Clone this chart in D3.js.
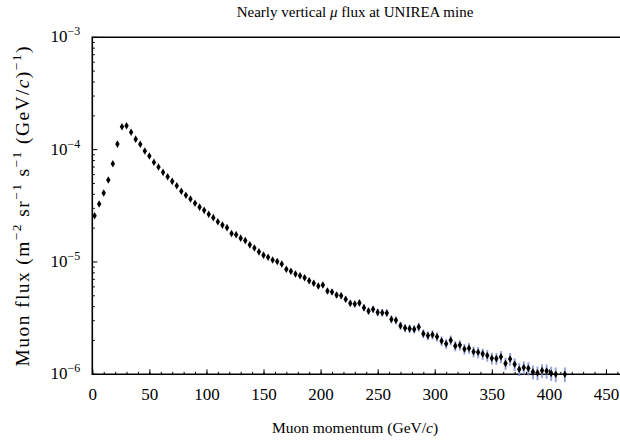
<!DOCTYPE html>
<html lang="en">
<head>
    <meta charset="UTF-8">
    <title>Muon flux</title>
    <style>
        body { margin: 0; background: #fff; }
        svg text { font-family: "Liberation Serif", "Times New Roman", "DejaVu Serif", serif; fill: #000; }
    </style>
</head>
<body>
    <svg id="chart" width="620" height="442"></svg>

    <script src="https://cdn.jsdelivr.net/npm/d3@7"></script>
    <script>
        // momentum bin centres (GeV/c)
        var momentum = [2, 6, 10, 14, 18, 22, 26, 30, 34, 38, 42, 46, 50, 54, 58, 62, 66, 70, 74, 78,
            82, 86, 90, 94, 98, 102, 106, 110, 114, 118, 122, 126, 130, 134, 138, 142, 146, 150, 154, 158,
            162, 166, 170, 174, 178, 182, 186, 190, 194, 198, 202, 206, 210, 214, 218, 222, 226, 230, 234, 238,
            242, 246, 250, 254, 258, 262, 266, 270, 274, 278, 282, 286, 290, 294, 298, 302, 306, 310, 314, 318,
            322, 326, 330, 334, 338, 342, 346, 350, 354, 358, 362, 366, 370, 374, 378, 382, 386, 390, 394, 398,
            402, 406, 414];

        // flux (m^-2 sr^-1 s^-1 (GeV/c)^-1)
        var flux = [2.58e-5, 3.28e-5, 4.11e-5, 5.37e-5, 7.49e-5, 1.12e-4, 1.60e-4, 1.63e-4, 1.43e-4, 1.24e-4,
            1.115e-4, 9.73e-5, 8.78e-5, 7.71e-5, 7.00e-5, 6.28e-5, 5.74e-5, 5.22e-5, 4.77e-5, 4.26e-5,
            3.92e-5, 3.63e-5, 3.33e-5, 3.08e-5, 2.88e-5, 2.66e-5, 2.48e-5, 2.28e-5, 2.13e-5, 2.02e-5,
            1.79e-5, 1.75e-5, 1.63e-5, 1.55e-5, 1.42e-5, 1.33e-5, 1.23e-5, 1.15e-5, 1.10e-5, 1.04e-5,
            1.01e-5, 9.59e-6, 8.61e-6, 8.26e-6, 7.82e-6, 7.55e-6, 7.24e-6, 6.81e-6, 6.46e-6, 6.11e-6,
            6.24e-6, 5.52e-6, 5.41e-6, 5.08e-6, 5.01e-6, 4.66e-6, 4.29e-6, 4.23e-6, 4.32e-6, 3.92e-6,
            3.66e-6, 3.79e-6, 3.56e-6, 3.53e-6, 3.51e-6, 3.09e-6, 3.03e-6, 2.71e-6, 2.58e-6, 2.55e-6,
            2.52e-6, 2.64e-6, 2.30e-6, 2.21e-6, 2.25e-6, 2.16e-6, 1.98e-6, 1.87e-6, 2.01e-6, 1.79e-6,
            1.82e-6, 1.68e-6, 1.71e-6, 1.59e-6, 1.57e-6, 1.52e-6, 1.47e-6, 1.39e-6, 1.38e-6, 1.43e-6,
            1.25e-6, 1.37e-6, 1.23e-6, 1.11e-6, 1.15e-6, 1.13e-6, 1.05e-6, 1.03e-6, 1.08e-6, 1.07e-6,
            1.02e-6, 1.00e-6, 1.00e-6];

        // relative uncertainty of each point
        var relErr = [0.02, 0.02, 0.02, 0.02, 0.02, 0.02, 0.02, 0.02, 0.02, 0.02,
            0.02, 0.02, 0.02, 0.025, 0.025, 0.025, 0.025, 0.025, 0.025, 0.025,
            0.03, 0.03, 0.03, 0.03, 0.03, 0.03, 0.03, 0.03, 0.035, 0.035,
            0.035, 0.035, 0.035, 0.035, 0.04, 0.04, 0.04, 0.04, 0.04, 0.04,
            0.045, 0.045, 0.045, 0.045, 0.05, 0.05, 0.05, 0.05, 0.05, 0.055,
            0.055, 0.055, 0.06, 0.06, 0.06, 0.06, 0.065, 0.065, 0.065, 0.07,
            0.07, 0.07, 0.075, 0.075, 0.075, 0.08, 0.08, 0.08, 0.085, 0.085,
            0.085, 0.09, 0.09, 0.09, 0.095, 0.095, 0.10, 0.10, 0.10, 0.105,
            0.105, 0.11, 0.11, 0.11, 0.115, 0.115, 0.12, 0.12, 0.12, 0.125,
            0.125, 0.13, 0.13, 0.13, 0.135, 0.135, 0.14, 0.14, 0.14, 0.145,
            0.145, 0.15, 0.15];

        var xMajor = [0, 50, 100, 150, 200, 250, 300, 350, 400, 450];
        var yDecades = [-6, -5, -4, -3];

        var serif = '"Liberation Serif", "Times New Roman", serif';
        var margin = { top: 37.3, left: 92.3 };
        var plotW = 536.5, plotH = 337;

        var svg = d3.select("#chart");
        var g = svg.append("g")
            .attr("transform", "translate(" + margin.left + "," + margin.top + ")");

        var x = d3.scaleLinear().domain([0, 470]).range([0, plotW]);
        var y = d3.scaleLog().domain([1e-6, 1e-3]).range([plotH, 0]);

        // text with superscripts / italics
        function richText(sel, parts, supSize, lift) {
            var lifted = false;
            parts.forEach(function (p) {
                var t = sel.append("tspan").text(p.t);
                if (p.it) t.style("font-style", "italic");
                if (p.sup) {
                    t.attr("dy", -lift).style("font-size", supSize);
                    lifted = true;
                } else if (lifted) {
                    t.attr("dy", lift);
                    lifted = false;
                }
            });
        }

        // minor x ticks
        var minorX = d3.range(0, 471, 10);
        g.append("g")
            .attr("transform", "translate(0," + plotH + ")")
            .call(d3.axisBottom(x).tickValues(minorX).tickSizeInner(-2.5).tickSizeOuter(0).tickFormat(""))
            .call(a => a.select(".domain").remove())
            .call(a => a.selectAll("line").attr("stroke-width", 1));

        // major x ticks + labels
        g.append("g")
            .attr("transform", "translate(0," + plotH + ")")
            .call(d3.axisBottom(x).tickValues(xMajor).tickSizeInner(-5).tickSizeOuter(0).tickPadding(14))
            .call(a => a.select(".domain").remove())
            .call(a => a.selectAll("line").attr("stroke-width", 1))
            .call(a => a.selectAll("text")
                .style("font-family", serif)
                .style("font-size", "17px"));

        // y ticks (log)
        var yMinor = [];
        yDecades.slice(0, 3).forEach(function (e) {
            for (var k = 2; k <= 9; k++) yMinor.push(k * Math.pow(10, e));
        });
        g.append("g").selectAll("line.minor")
            .data(yMinor)
            .enter().append("line")
            .attr("x1", 0).attr("x2", 2.5)
            .attr("y1", d => y(d)).attr("y2", d => y(d))
            .attr("stroke", "#000");
        g.append("g").selectAll("line.major")
            .data(yDecades)
            .enter().append("line")
            .attr("x1", 0).attr("x2", 5)
            .attr("y1", d => y(Math.pow(10, d))).attr("y2", d => y(Math.pow(10, d)))
            .attr("stroke", "#000");

        yDecades.forEach(function (e) {
            var t = g.append("text")
                .attr("x", -12)
                .attr("y", y(Math.pow(10, e)) + 5)
                .attr("text-anchor", "end")
                .style("font-size", "17px");
            t.append("tspan").text("10");
            t.append("tspan").attr("dy", -7).style("font-size", "12px").text("\u2212" + (-e));
        });

        // frame (left, top, bottom)
        g.append("path")
            .attr("d", "M" + (plotW + 5) + ",0H0V" + plotH + "H" + (plotW + 5))
            .attr("fill", "none")
            .attr("stroke", "#000")
            .attr("stroke-width", 1.6);

        // data points
        var pts = momentum.map((m, i) => ({ p: m, f: flux[i], e: relErr[i] }));

        var pg = g.append("g");
        pg.selectAll("rect.err")
            .data(pts)
            .enter().append("rect")
            .attr("x", d => x(d.p) - 1)
            .attr("width", 2)
            .attr("y", d => y(d.f * (1 + d.e)))
            .attr("height", d => y(d.f * (1 - d.e)) - y(d.f * (1 + d.e)))
            .attr("fill", "#7f8fd0")
            .attr("opacity", 0.8);

        pg.selectAll("path.pt")
            .data(pts)
            .enter().append("path")
            .attr("d", d => {
                var cx = x(d.p), cy = y(d.f);
                return "M" + cx + "," + (cy - 3.8) + "L" + (cx + 2.2) + "," + cy + "L" + cx + "," + (cy + 3.8) + "L" + (cx - 2.2) + "," + cy + "Z";
            })
            .attr("fill", "#000");

        // titles
        var title = svg.append("text")
            .attr("x", 355)
            .attr("y", 17)
            .attr("text-anchor", "middle")
            .style("font-size", "15px");
        title.append("tspan").text("Nearly vertical ");
        title.append("tspan").style("font-style", "italic").text("\u03bc");
        title.append("tspan").text(" flux at UNIREA mine");

        var xl = svg.append("text")
            .attr("x", 355)
            .attr("y", 433)
            .attr("text-anchor", "middle")
            .style("font-size", "15.5px");
        richText(xl, [{ t: "Muon momentum (GeV/" }, { t: "c", it: true }, { t: ")" }], "11px", 6);

        var yl = svg.append("text")
            .attr("transform", "translate(29," + (margin.top + plotH / 2) + ") rotate(-90)")
            .attr("text-anchor", "middle")
            .style("font-size", "19.5px")
            .style("letter-spacing", "1.4px");
        richText(yl, [
            { t: "Muon flux (m" }, { t: "\u22122", sup: true },
            { t: " sr" }, { t: "\u22121", sup: true },
            { t: " s" }, { t: "\u22121", sup: true },
            { t: " (GeV/" }, { t: "c", it: true }, { t: ")" }, { t: "\u22121", sup: true },
            { t: ")" }
        ], "13.5px", 8);
    </script>
</body>
</html>
